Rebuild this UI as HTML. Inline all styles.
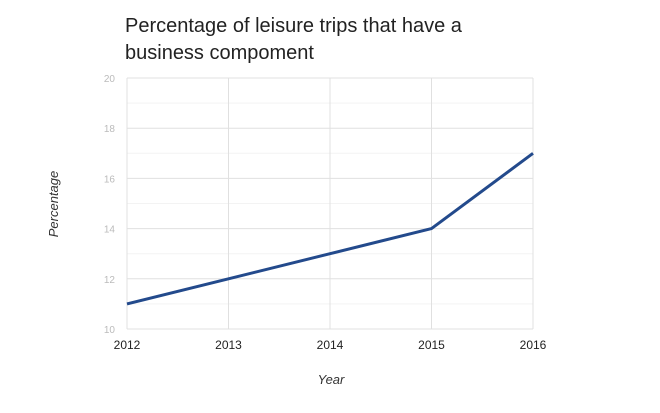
<!DOCTYPE html>
<html><head><meta charset="utf-8"><style>
body{margin:0;background:#fff;font-family:"Liberation Sans",sans-serif}
</style></head><body>
<svg width="660" height="408" xmlns="http://www.w3.org/2000/svg">
<text x="125" y="32" font-size="20" fill="#222">Percentage of leisure trips that have a</text>
<text x="125" y="59" font-size="20" fill="#222">business compoment</text>
<g id="grid"></g>
<g id="series"></g>
<text x="331" y="384" font-size="13" font-style="italic" fill="#333" text-anchor="middle">Year</text>
<text transform="translate(58,204) rotate(-90)" font-size="13" font-style="italic" fill="#333" text-anchor="middle">Percentage</text>
</svg>
<script>
const years=[2012,2013,2014,2015,2016];
const values=[11,12,13,14,17];
const yTicks=[10,12,14,16,18,20];
const NS="http://www.w3.org/2000/svg";
const x0=127,x1=533,yTop=78,yBot=329;
function xs(i){return x0+(x1-x0)*i/(years.length-1);}
function ys(v){return yBot-(v-10)/(20-10)*(yBot-yTop);}
const grid=document.getElementById('grid'),ser=document.getElementById('series');
function mk(t,a,p){const e=document.createElementNS(NS,t);for(const k in a)e.setAttribute(k,a[k]);p.appendChild(e);return e;}
for(let v=10;v<=20;v++){
  const l=mk('line',{x1:x0,x2:x1,y1:ys(v),y2:ys(v),stroke:v%2?'#f3f3f3':'#e0e0e0','stroke-width':1},grid);
  
  
}
yTicks.forEach(v=>{
  const t=mk('text',{x:x0-12,y:ys(v)+4,'font-size':10,fill:'#bbb','text-anchor':'end'},grid);
  t.textContent=v;
  
  
});
years.forEach((y,i)=>{
  const l=mk('line',{x1:xs(i),x2:xs(i),y1:yTop,y2:yBot,stroke:'#e0e0e0','stroke-width':1},grid);
  
  
  const t=mk('text',{x:xs(i),y:yBot+20,'font-size':12,fill:'#222','text-anchor':'middle'},grid);
  t.textContent=y;
  
  
});
const p=mk('polyline',{points:values.map((v,i)=>xs(i)+','+ys(v)).join(' '),fill:'none',stroke:'#234a8c','stroke-width':3,'stroke-linejoin':'round'},ser);


</script>
</body></html>
